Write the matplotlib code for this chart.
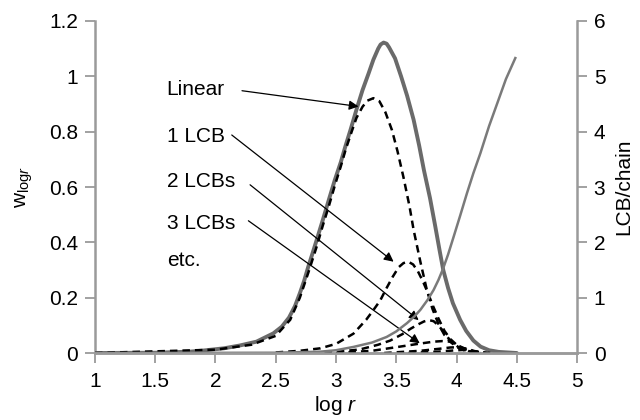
import matplotlib
matplotlib.use("Agg")
import matplotlib.pyplot as plt

plt.rcParams['font.family'] = ['Liberation Sans', 'DejaVu Sans']
plt.rcParams['mathtext.fontset'] = 'custom'
plt.rcParams['mathtext.rm'] = 'Liberation Sans'
plt.rcParams['mathtext.it'] = 'Liberation Sans:italic'

# total distribution (sum of all)
total_x = [1.0, 1.5, 1.79, 1.9, 2.07, 2.2, 2.34, 2.48, 2.55, 2.61, 2.66, 2.70, 2.735, 2.77,
           2.805, 2.84, 2.89, 2.94, 2.99, 3.04, 3.08, 3.12, 3.17, 3.22, 3.27, 3.31, 3.35,
           3.37, 3.395, 3.42, 3.44, 3.49, 3.54, 3.59, 3.644, 3.69, 3.73, 3.78, 3.824, 3.86,
           3.89, 3.93, 3.97, 4.03, 4.08, 4.14, 4.2, 4.27, 4.35, 4.5]
total_y = [0.0, 0.001, 0.005, 0.009, 0.017, 0.027, 0.041, 0.071, 0.095, 0.128, 0.17, 0.216,
           0.26, 0.312, 0.36, 0.409, 0.48, 0.553, 0.625, 0.69, 0.75, 0.806, 0.88, 0.95, 1.01,
           1.06, 1.10, 1.115, 1.122, 1.118, 1.105, 1.065, 1.0, 0.93, 0.843, 0.75, 0.66, 0.56,
           0.457, 0.37, 0.30, 0.235, 0.18, 0.12, 0.08, 0.045, 0.023, 0.01, 0.004, 0.0]

# linear chains
lin_x = [1.0, 2.0, 2.3, 2.5, 2.62, 2.70, 2.77, 2.84, 2.89, 2.94, 2.99, 3.04, 3.08, 3.13,
         3.17, 3.22, 3.26, 3.31, 3.36, 3.41, 3.464, 3.51, 3.56, 3.61, 3.644, 3.70, 3.75,
         3.80, 3.85, 3.90, 3.95, 4.0, 4.05, 4.1, 4.2]
lin_y = [0.0, 0.012, 0.03, 0.062, 0.12, 0.20, 0.29, 0.385, 0.46, 0.53, 0.605, 0.675, 0.735,
         0.80, 0.85, 0.89, 0.912, 0.921, 0.91, 0.87, 0.806, 0.73, 0.635, 0.53, 0.445, 0.33,
         0.235, 0.16, 0.105, 0.065, 0.04, 0.022, 0.012, 0.006, 0.0]

# one long chain branch
lcb1_x = [2.5, 2.7, 2.87, 3.0, 3.145, 3.25, 3.31, 3.367, 3.42, 3.47, 3.52, 3.56, 3.60,
          3.64, 3.68, 3.72, 3.76, 3.80, 3.85, 3.90, 3.95, 4.0, 4.05, 4.1, 4.2]
lcb1_y = [0.002, 0.008, 0.017, 0.033, 0.07, 0.12, 0.155, 0.19, 0.235, 0.275, 0.31, 0.325,
          0.33, 0.32, 0.295, 0.26, 0.22, 0.175, 0.125, 0.08, 0.05, 0.03, 0.017, 0.009, 0.002]

# two long chain branches
lcb2_x = [2.8, 3.0, 3.2, 3.35, 3.45, 3.55, 3.62, 3.68, 3.73, 3.77, 3.81, 3.85, 3.89, 3.93,
          3.97, 4.02, 4.1, 4.2]
lcb2_y = [0.0, 0.004, 0.013, 0.03, 0.045, 0.068, 0.088, 0.103, 0.114, 0.119, 0.115, 0.10,
          0.078, 0.055, 0.036, 0.02, 0.007, 0.0]

# three long chain branches
lcb3_x = [3.0, 3.3, 3.53, 3.68, 3.81, 3.88, 3.95, 4.01, 4.09, 4.2]
lcb3_y = [0.0, 0.008, 0.023, 0.033, 0.041, 0.043, 0.041, 0.028, 0.011, 0.0]

# four and five branches (etc.)
lcb4_x = [3.4, 3.7, 3.85, 3.95, 4.02, 4.08, 4.15, 4.25]
lcb4_y = [0.0, 0.008, 0.015, 0.02, 0.021, 0.016, 0.007, 0.0]
lcb5_x = [3.6, 3.85, 3.97, 4.05, 4.1, 4.17, 4.28]
lcb5_y = [0.0, 0.005, 0.009, 0.011, 0.009, 0.004, 0.0]

# LCB per chain (right axis)
bpc_x = [1.0, 2.5, 2.87, 3.0, 3.145, 3.3, 3.42, 3.5, 3.589, 3.65, 3.70, 3.76, 3.81, 3.85,
         3.886, 3.93, 3.976, 4.03, 4.087, 4.14, 4.198, 4.27, 4.336, 4.41, 4.488]
bpc_y = [0.0, 0.005, 0.024, 0.05, 0.11, 0.19, 0.29, 0.39, 0.54, 0.66, 0.78, 0.96, 1.14,
         1.32, 1.51, 1.78, 2.10, 2.48, 2.89, 3.25, 3.61, 4.1, 4.5, 4.95, 5.33]

labels = ['Linear', '1 LCB', '2 LCBs', '3 LCBs', 'etc.']
label_y = [0.951, 0.782, 0.620, 0.469, 0.336]
# arrow start / tip pairs (data coords)
arrow_from = [(2.22, 0.948), (2.135, 0.788), (2.287, 0.608), (2.273, 0.478)]
arrow_to = [(3.187, 0.891), (3.478, 0.330), (3.686, 0.119), (3.695, 0.035)]

grey = '#9a9a9a'
fs = 15
fig = plt.figure(figsize=(6.4, 4.2), dpi=100)
ax = fig.add_axes([0.1484, 0.1595, 0.7532, 0.7905])
ax2 = ax.twinx()

ax.plot(total_x, total_y, color='#6a6a6a', lw=2.8, zorder=3, solid_capstyle='round')
for xs, ys in [(lin_x, lin_y), (lcb1_x, lcb1_y), (lcb2_x, lcb2_y), (lcb3_x, lcb3_y),
               (lcb4_x, lcb4_y), (lcb5_x, lcb5_y)]:
    ax.plot(xs, ys, color='black', lw=1.8, ls=(0, (3, 2)), zorder=4)
ax2.plot(bpc_x, bpc_y, color='#7a7a7a', lw=1.8)

for t, yy in zip(labels, label_y):
    ax.text(1.595, yy, t, fontsize=fs, va='center', ha='left')
for a, b in zip(arrow_from, arrow_to):
    ax.annotate('', xy=b, xytext=a,
                arrowprops=dict(arrowstyle='-|>', color='black', lw=0.9,
                                mutation_scale=14, shrinkA=0, shrinkB=0))

ax.set_xlim(1, 5)
ax.set_ylim(0, 1.2)
ax2.set_ylim(0, 6)
ax.set_xticks([1, 1.5, 2, 2.5, 3, 3.5, 4, 4.5, 5])
ax.set_xticklabels(['1', '1.5', '2', '2.5', '3', '3.5', '4', '4.5', '5'])
ax.set_yticks([0, 0.2, 0.4, 0.6, 0.8, 1.0, 1.2])
ax.set_yticklabels(['0', '0.2', '0.4', '0.6', '0.8', '1', '1.2'])
ax2.set_yticks([0, 1, 2, 3, 4, 5, 6])

for a in (ax, ax2):
    a.spines['top'].set_visible(False)
    for s in ('left', 'right', 'bottom'):
        a.spines[s].set_color(grey)
        a.spines[s].set_linewidth(1.8)
    a.tick_params(length=7, width=1.3, color=grey, labelsize=fs, pad=5)
ax.tick_params(axis='x', pad=7)
ax.spines['right'].set_visible(False)
ax2.spines['left'].set_visible(False)

ax.set_xlabel(r'log $\mathit{r}$', fontsize=fs, labelpad=2)
ax.set_ylabel(r'w$_{\mathrm{log}\mathit{r}}$', fontsize=fs, labelpad=10)
ax2.set_ylabel('LCB/chain', fontsize=fs, labelpad=6)

fig.savefig('out.png', dpi=100)
